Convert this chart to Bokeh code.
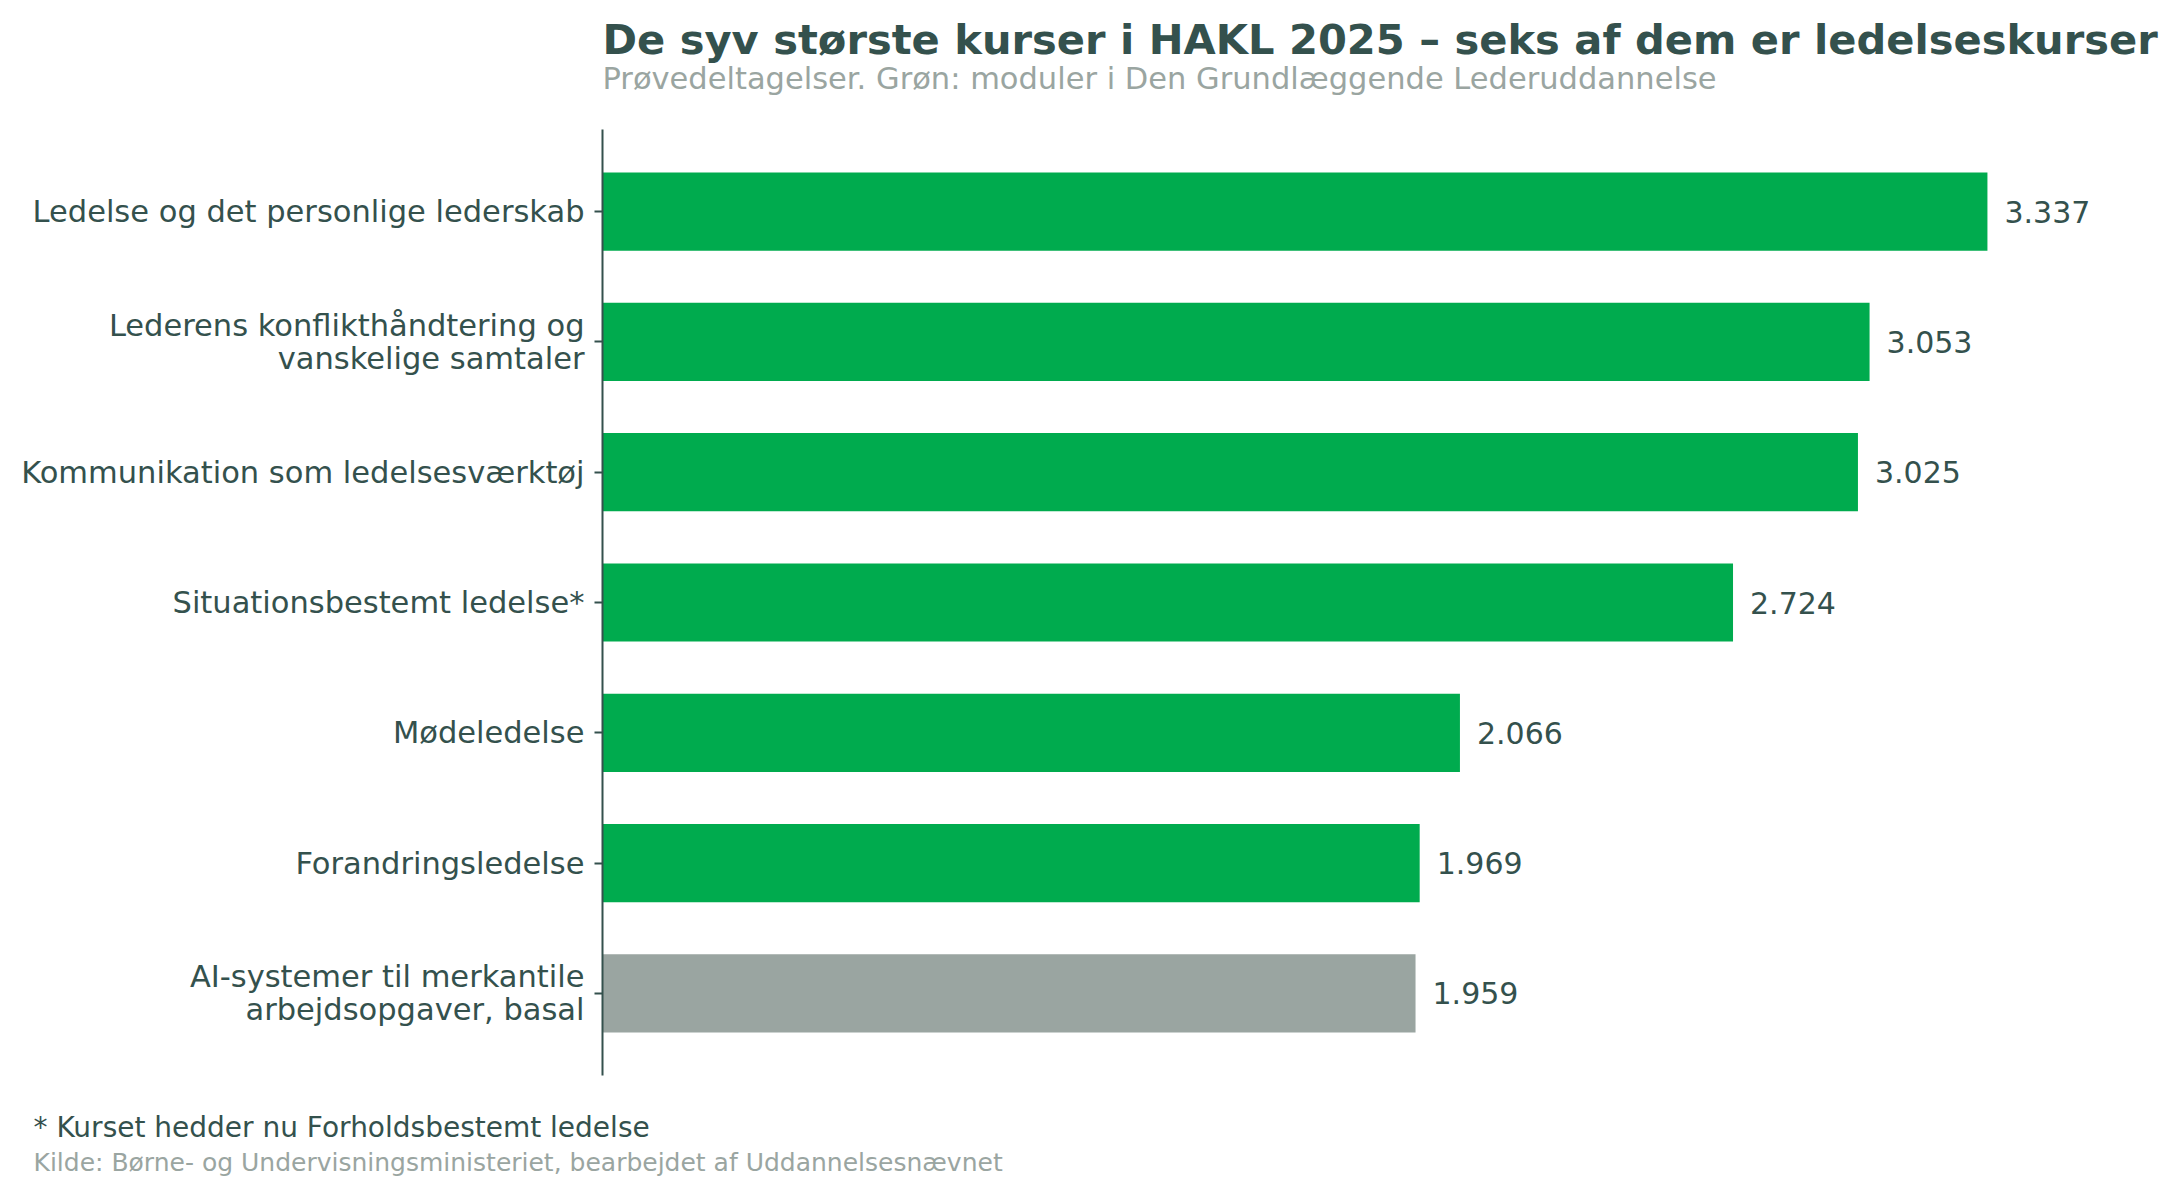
from bokeh.plotting import figure
from bokeh.models import FactorRange, ColumnDataSource, Title
from bokeh.core.properties import value
from bokeh.embed import file_html
from bokeh.resources import INLINE

# ---------------- data ----------------
courses = [
    "Ledelse og det personlige lederskab",
    "Lederens konflikthåndtering og\nvanskelige samtaler",
    "Kommunikation som ledelsesværktøj",
    "Situationsbestemt ledelse*",
    "Mødeledelse",
    "Forandringsledelse",
    "AI-systemer til merkantile\narbejdsopgaver, basal",
]
participants = [3337, 3053, 3025, 2724, 2066, 1969, 1959]
in_basic_leadership = [True, True, True, True, True, True, False]

title_text = "De syv største kurser i HAKL 2025 – seks af dem er ledelseskurser"
subtitle_text = "Prøvedeltagelser. Grøn: moduler i Den Grundlæggende Lederuddannelse"
footnote_text = "* Kurset hedder nu Forholdsbestemt ledelse"
source_text = "Kilde: Børne- og Undervisningsministeriet, bearbejdet af Uddannelsesnævnet"

# ---------------- style ----------------
FONT = "DejaVu Sans"
DARK = "#34514D"
GREY = "#9AA5A1"
GREEN = "#00AB4E"

labels = [f"{v:,}".replace(",", ".") for v in participants]
colors = [GREEN if g else GREY for g in in_basic_leadership]

source = ColumnDataSource(dict(course=courses, n=participants, label=labels, color=colors))

yr = FactorRange(factors=list(reversed(courses)), range_padding=0.13,
                 range_padding_units="absolute")

W, H = 2180, 1196
p = figure(width=W, height=H, y_range=yr, x_range=(0, 3754),
           output_backend="svg", toolbar_location=None, title=None,
           min_border_left=602, min_border_right=20,
           min_border_top=129, min_border_bottom=121)
p.outline_line_color = None
p.background_fill_color = "white"
p.border_fill_color = "white"
p.xgrid.visible = False
p.ygrid.visible = False
p.xaxis.visible = False

ax = p.yaxis[0]
ax.axis_line_color = DARK
ax.axis_line_width = 2
ax.major_tick_line_color = DARK
ax.major_tick_line_width = 2
ax.major_tick_out = 8
ax.major_tick_in = 0
ax.minor_tick_line_color = None
ax.major_label_text_font = FONT
ax.major_label_text_font_size = "30.5px"
ax.major_label_text_color = DARK
ax.major_label_text_line_height = 0.94
ax.major_label_standoff = 10

p.hbar(y="course", right="n", left=0, height=0.6, source=source,
       fill_color="color", line_color=None)

p.text(x="n", y="course", text="label", source=source, x_offset=17,
       text_font=value(FONT), text_font_size="30px", text_color=DARK,
       text_baseline="middle", text_align="left")

def make_title(txt, size, color, bold=False, offset=0, standoff=0, valign="bottom"):
    return Title(text=txt, align="left", offset=offset, standoff=standoff,
                 vertical_align=valign,
                 text_font=FONT, text_font_size=size, text_color=color,
                 text_font_style="bold" if bold else "normal")

# above: first added is closest to the plot
p.add_layout(make_title(subtitle_text, "30.5px", GREY, standoff=67), "above")
p.add_layout(make_title(title_text, "41.6px", DARK, bold=True, standoff=-76), "above")
# below
p.add_layout(make_title(footnote_text, "28px", DARK, offset=-569, standoff=67), "below")
p.add_layout(make_title(source_text, "25px", GREY, offset=-569, standoff=-59, valign="top"), "below")

open("out.html", "w").write(file_html(p, INLINE))
